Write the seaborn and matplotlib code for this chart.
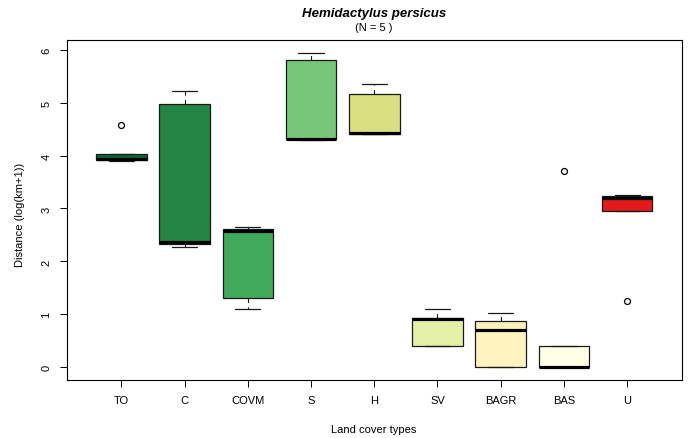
import pandas as pd
import seaborn as sns
import matplotlib
matplotlib.use("Agg")
import matplotlib.pyplot as plt

# land cover types and the 5 distances (log(km+1)) in each
cover_types = ["TO", "C", "COVM", "S", "H", "SV", "BAGR", "BAS", "U"]
dist_TO   = [3.90, 3.91, 3.93, 4.03, 4.58]
dist_C    = [2.28, 2.33, 2.36, 4.97, 5.22]
dist_COVM = [1.10, 1.31, 2.57, 2.62, 2.65]
dist_S    = [4.30, 4.31, 4.32, 5.81, 5.94]
dist_H    = [4.40, 4.41, 4.43, 5.16, 5.36]
dist_SV   = [0.41, 0.41, 0.91, 0.93, 1.10]
dist_BAGR = [0.00, 0.00, 0.70, 0.88, 1.03]
dist_BAS  = [0.00, 0.00, 0.01, 0.40, 3.70]
dist_U    = [1.25, 2.95, 3.20, 3.24, 3.26]
box_colors = ["#006837", "#238443", "#41ab5d", "#78c679", "#d9df7f",
              "#e3f0a5", "#fff2bf", "#ffffe5", "#e31a1c"]

all_dists = [dist_TO, dist_C, dist_COVM, dist_S, dist_H,
             dist_SV, dist_BAGR, dist_BAS, dist_U]
df = pd.DataFrame({
    "cover": [c for c, d in zip(cover_types, all_dists) for _ in d],
    "dist": [v for d in all_dists for v in d],
})

sns.set_style("ticks")
plt.rcParams["font.family"] = ["Liberation Sans", "DejaVu Sans"]
plt.rcParams["text.color"] = "black"
plt.rcParams["xtick.labelcolor"] = "black"
plt.rcParams["ytick.labelcolor"] = "black"

fig = plt.figure(figsize=(6.89, 4.39), dpi=100)
ax = fig.add_axes([0.0972, 0.1326, 0.892, 0.7733])

pal = dict(zip(cover_types, box_colors))
sns.boxplot(data=df, x="cover", y="dist", hue="cover", order=cover_types,
            palette=pal, legend=False, width=0.8, ax=ax,
            linecolor="#1a1a1a", linewidth=0.9, saturation=1,
            whiskerprops=dict(linestyle=(0, (4, 4)), linewidth=0.8),
            capprops=dict(linewidth=0.9),
            medianprops=dict(color="black", linewidth=2.3),
            flierprops=dict(marker="o", markersize=4.3, markerfacecolor="none",
                            markeredgecolor="black", markeredgewidth=0.9))

# R style range padding (4%)
lo, hi = df["dist"].min(), df["dist"].max()
pad = 0.04 * (hi - lo)
ax.set_ylim(lo - pad, hi + pad)
ax.set_xlim(0.5 - 0.36 - 1, len(cover_types) - 0.5 + 0.36)
ax.set_xticks(range(len(cover_types)))
ax.set_yticks(range(0, 7))

for s in ax.spines.values():
    s.set_visible(True)
    s.set_color("black")
    s.set_linewidth(0.8)
ax.tick_params(axis="both", direction="out", length=5, width=0.7,
               labelsize=8, pad=6.3, color="black", labelcolor="black")
plt.setp(ax.get_yticklabels(), rotation=90, va="center")

ax.set_xlabel("")
ax.set_ylabel("")
fig.text(0.029, 0.51, "Distance (log(km+1))", rotation=90, ha="center",
         va="center", fontsize=8)
fig.text(0.543, 0.021, "Land cover types", ha="center", va="center", fontsize=8)
fig.text(0.543, 0.968, "Hemidactylus persicus", ha="center", va="center",
         fontsize=9.5, fontweight="bold", fontstyle="italic")
fig.text(0.543, 0.936, "(N = 5 )", ha="center", va="center", fontsize=8)

plt.savefig("out.png", dpi=100)
